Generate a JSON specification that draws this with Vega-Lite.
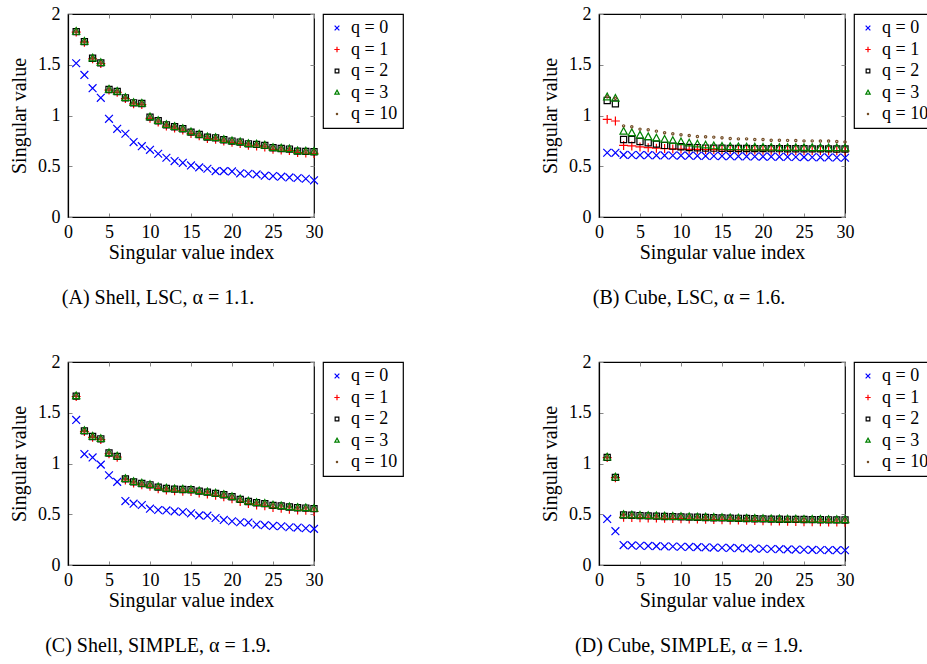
{
  "$schema": "https://vega.github.io/schema/vega-lite/v6.json",
  "padding": {"left": 8, "top": 4, "right": 0, "bottom": 0},
  "datasets": {
    "sv": [
      {"p":"A","i":1,"q = 0":1.515,"q = 1":1.822,"q = 2":1.826,"q = 3":1.828,"q = 10":1.826},
      {"p":"A","i":2,"q = 0":1.400,"q = 1":1.722,"q = 2":1.728,"q = 3":1.730,"q = 10":1.728},
      {"p":"A","i":3,"q = 0":1.269,"q = 1":1.558,"q = 2":1.564,"q = 3":1.566,"q = 10":1.564},
      {"p":"A","i":4,"q = 0":1.174,"q = 1":1.512,"q = 2":1.518,"q = 3":1.520,"q = 10":1.518},
      {"p":"A","i":5,"q = 0":0.967,"q = 1":1.250,"q = 2":1.256,"q = 3":1.258,"q = 10":1.256},
      {"p":"A","i":6,"q = 0":0.869,"q = 1":1.228,"q = 2":1.236,"q = 3":1.238,"q = 10":1.236},
      {"p":"A","i":7,"q = 0":0.820,"q = 1":1.166,"q = 2":1.174,"q = 3":1.176,"q = 10":1.174},
      {"p":"A","i":8,"q = 0":0.738,"q = 1":1.115,"q = 2":1.125,"q = 3":1.127,"q = 10":1.125},
      {"p":"A","i":9,"q = 0":0.698,"q = 1":1.108,"q = 2":1.118,"q = 3":1.120,"q = 10":1.118},
      {"p":"A","i":10,"q = 0":0.662,"q = 1":0.972,"q = 2":0.984,"q = 3":0.986,"q = 10":0.984},
      {"p":"A","i":11,"q = 0":0.623,"q = 1":0.936,"q = 2":0.948,"q = 3":0.950,"q = 10":0.948},
      {"p":"A","i":12,"q = 0":0.584,"q = 1":0.896,"q = 2":0.908,"q = 3":0.910,"q = 10":0.908},
      {"p":"A","i":13,"q = 0":0.551,"q = 1":0.876,"q = 2":0.889,"q = 3":0.891,"q = 10":0.889},
      {"p":"A","i":14,"q = 0":0.534,"q = 1":0.856,"q = 2":0.869,"q = 3":0.871,"q = 10":0.869},
      {"p":"A","i":15,"q = 0":0.508,"q = 1":0.822,"q = 2":0.836,"q = 3":0.838,"q = 10":0.836},
      {"p":"A","i":16,"q = 0":0.489,"q = 1":0.800,"q = 2":0.813,"q = 3":0.815,"q = 10":0.813},
      {"p":"A","i":17,"q = 0":0.475,"q = 1":0.773,"q = 2":0.787,"q = 3":0.789,"q = 10":0.787},
      {"p":"A","i":18,"q = 0":0.452,"q = 1":0.766,"q = 2":0.780,"q = 3":0.782,"q = 10":0.780},
      {"p":"A","i":19,"q = 0":0.452,"q = 1":0.748,"q = 2":0.761,"q = 3":0.763,"q = 10":0.761},
      {"p":"A","i":20,"q = 0":0.449,"q = 1":0.735,"q = 2":0.748,"q = 3":0.750,"q = 10":0.748},
      {"p":"A","i":21,"q = 0":0.430,"q = 1":0.724,"q = 2":0.738,"q = 3":0.740,"q = 10":0.738},
      {"p":"A","i":22,"q = 0":0.426,"q = 1":0.707,"q = 2":0.721,"q = 3":0.723,"q = 10":0.721},
      {"p":"A","i":23,"q = 0":0.420,"q = 1":0.700,"q = 2":0.715,"q = 3":0.717,"q = 10":0.715},
      {"p":"A","i":24,"q = 0":0.407,"q = 1":0.690,"q = 2":0.705,"q = 3":0.707,"q = 10":0.705},
      {"p":"A","i":25,"q = 0":0.403,"q = 1":0.667,"q = 2":0.682,"q = 3":0.684,"q = 10":0.682},
      {"p":"A","i":26,"q = 0":0.397,"q = 1":0.660,"q = 2":0.675,"q = 3":0.677,"q = 10":0.675},
      {"p":"A","i":27,"q = 0":0.390,"q = 1":0.654,"q = 2":0.669,"q = 3":0.671,"q = 10":0.669},
      {"p":"A","i":28,"q = 0":0.384,"q = 1":0.634,"q = 2":0.649,"q = 3":0.651,"q = 10":0.649},
      {"p":"A","i":29,"q = 0":0.377,"q = 1":0.630,"q = 2":0.646,"q = 3":0.648,"q = 10":0.646},
      {"p":"A","i":30,"q = 0":0.361,"q = 1":0.626,"q = 2":0.643,"q = 3":0.645,"q = 10":0.643},

      {"p":"B","i":1,"q = 0":0.633,"q = 1":0.962,"q = 2":1.148,"q = 3":1.182,"q = 10":1.185},
      {"p":"B","i":2,"q = 0":0.632,"q = 1":0.946,"q = 2":1.115,"q = 3":1.168,"q = 10":1.170},
      {"p":"B","i":3,"q = 0":0.612,"q = 1":0.705,"q = 2":0.764,"q = 3":0.844,"q = 10":0.898},
      {"p":"B","i":4,"q = 0":0.611,"q = 1":0.700,"q = 2":0.764,"q = 3":0.830,"q = 10":0.889},
      {"p":"B","i":5,"q = 0":0.610,"q = 1":0.690,"q = 2":0.744,"q = 3":0.805,"q = 10":0.866},
      {"p":"B","i":6,"q = 0":0.609,"q = 1":0.683,"q = 2":0.731,"q = 3":0.790,"q = 10":0.859},
      {"p":"B","i":7,"q = 0":0.608,"q = 1":0.678,"q = 2":0.718,"q = 3":0.777,"q = 10":0.846},
      {"p":"B","i":8,"q = 0":0.607,"q = 1":0.674,"q = 2":0.705,"q = 3":0.764,"q = 10":0.830},
      {"p":"B","i":9,"q = 0":0.606,"q = 1":0.671,"q = 2":0.698,"q = 3":0.752,"q = 10":0.820},
      {"p":"B","i":10,"q = 0":0.605,"q = 1":0.669,"q = 2":0.692,"q = 3":0.740,"q = 10":0.810},
      {"p":"B","i":11,"q = 0":0.604,"q = 1":0.667,"q = 2":0.685,"q = 3":0.728,"q = 10":0.803},
      {"p":"B","i":12,"q = 0":0.603,"q = 1":0.666,"q = 2":0.682,"q = 3":0.718,"q = 10":0.793},
      {"p":"B","i":13,"q = 0":0.602,"q = 1":0.665,"q = 2":0.679,"q = 3":0.708,"q = 10":0.790},
      {"p":"B","i":14,"q = 0":0.601,"q = 1":0.664,"q = 2":0.678,"q = 3":0.700,"q = 10":0.787},
      {"p":"B","i":15,"q = 0":0.600,"q = 1":0.663,"q = 2":0.677,"q = 3":0.695,"q = 10":0.780},
      {"p":"B","i":16,"q = 0":0.599,"q = 1":0.662,"q = 2":0.676,"q = 3":0.692,"q = 10":0.774},
      {"p":"B","i":17,"q = 0":0.598,"q = 1":0.661,"q = 2":0.675,"q = 3":0.690,"q = 10":0.770},
      {"p":"B","i":18,"q = 0":0.597,"q = 1":0.660,"q = 2":0.675,"q = 3":0.688,"q = 10":0.770},
      {"p":"B","i":19,"q = 0":0.596,"q = 1":0.659,"q = 2":0.674,"q = 3":0.687,"q = 10":0.764},
      {"p":"B","i":20,"q = 0":0.595,"q = 1":0.658,"q = 2":0.674,"q = 3":0.686,"q = 10":0.764},
      {"p":"B","i":21,"q = 0":0.594,"q = 1":0.658,"q = 2":0.673,"q = 3":0.685,"q = 10":0.757},
      {"p":"B","i":22,"q = 0":0.593,"q = 1":0.657,"q = 2":0.673,"q = 3":0.684,"q = 10":0.757},
      {"p":"B","i":23,"q = 0":0.592,"q = 1":0.656,"q = 2":0.672,"q = 3":0.684,"q = 10":0.755},
      {"p":"B","i":24,"q = 0":0.591,"q = 1":0.656,"q = 2":0.672,"q = 3":0.683,"q = 10":0.754},
      {"p":"B","i":25,"q = 0":0.590,"q = 1":0.655,"q = 2":0.672,"q = 3":0.683,"q = 10":0.750},
      {"p":"B","i":26,"q = 0":0.589,"q = 1":0.654,"q = 2":0.671,"q = 3":0.682,"q = 10":0.750},
      {"p":"B","i":27,"q = 0":0.588,"q = 1":0.654,"q = 2":0.671,"q = 3":0.682,"q = 10":0.748},
      {"p":"B","i":28,"q = 0":0.587,"q = 1":0.653,"q = 2":0.671,"q = 3":0.681,"q = 10":0.748},
      {"p":"B","i":29,"q = 0":0.586,"q = 1":0.653,"q = 2":0.670,"q = 3":0.681,"q = 10":0.744},
      {"p":"B","i":30,"q = 0":0.584,"q = 1":0.652,"q = 2":0.670,"q = 3":0.680,"q = 10":0.740},

      {"p":"C","i":1,"q = 0":1.429,"q = 1":1.660,"q = 2":1.664,"q = 3":1.666,"q = 10":1.664},
      {"p":"C","i":2,"q = 0":1.093,"q = 1":1.315,"q = 2":1.321,"q = 3":1.323,"q = 10":1.321},
      {"p":"C","i":3,"q = 0":1.060,"q = 1":1.258,"q = 2":1.266,"q = 3":1.268,"q = 10":1.266},
      {"p":"C","i":4,"q = 0":0.989,"q = 1":1.236,"q = 2":1.243,"q = 3":1.245,"q = 10":1.243},
      {"p":"C","i":5,"q = 0":0.884,"q = 1":1.096,"q = 2":1.103,"q = 3":1.105,"q = 10":1.103},
      {"p":"C","i":6,"q = 0":0.819,"q = 1":1.062,"q = 2":1.070,"q = 3":1.072,"q = 10":1.070},
      {"p":"C","i":7,"q = 0":0.630,"q = 1":0.838,"q = 2":0.848,"q = 3":0.850,"q = 10":0.848},
      {"p":"C","i":8,"q = 0":0.604,"q = 1":0.808,"q = 2":0.819,"q = 3":0.821,"q = 10":0.819},
      {"p":"C","i":9,"q = 0":0.591,"q = 1":0.790,"q = 2":0.803,"q = 3":0.805,"q = 10":0.803},
      {"p":"C","i":10,"q = 0":0.555,"q = 1":0.776,"q = 2":0.790,"q = 3":0.792,"q = 10":0.790},
      {"p":"C","i":11,"q = 0":0.542,"q = 1":0.752,"q = 2":0.767,"q = 3":0.769,"q = 10":0.767},
      {"p":"C","i":12,"q = 0":0.538,"q = 1":0.738,"q = 2":0.754,"q = 3":0.756,"q = 10":0.754},
      {"p":"C","i":13,"q = 0":0.529,"q = 1":0.731,"q = 2":0.747,"q = 3":0.749,"q = 10":0.747},
      {"p":"C","i":14,"q = 0":0.522,"q = 1":0.727,"q = 2":0.744,"q = 3":0.746,"q = 10":0.744},
      {"p":"C","i":15,"q = 0":0.509,"q = 1":0.723,"q = 2":0.741,"q = 3":0.743,"q = 10":0.741},
      {"p":"C","i":16,"q = 0":0.489,"q = 1":0.710,"q = 2":0.728,"q = 3":0.730,"q = 10":0.728},
      {"p":"C","i":17,"q = 0":0.486,"q = 1":0.699,"q = 2":0.718,"q = 3":0.720,"q = 10":0.718},
      {"p":"C","i":18,"q = 0":0.463,"q = 1":0.686,"q = 2":0.705,"q = 3":0.707,"q = 10":0.705},
      {"p":"C","i":19,"q = 0":0.444,"q = 1":0.672,"q = 2":0.692,"q = 3":0.694,"q = 10":0.692},
      {"p":"C","i":20,"q = 0":0.431,"q = 1":0.652,"q = 2":0.672,"q = 3":0.674,"q = 10":0.672},
      {"p":"C","i":21,"q = 0":0.421,"q = 1":0.626,"q = 2":0.646,"q = 3":0.648,"q = 10":0.646},
      {"p":"C","i":22,"q = 0":0.418,"q = 1":0.605,"q = 2":0.626,"q = 3":0.628,"q = 10":0.626},
      {"p":"C","i":23,"q = 0":0.398,"q = 1":0.592,"q = 2":0.613,"q = 3":0.615,"q = 10":0.613},
      {"p":"C","i":24,"q = 0":0.392,"q = 1":0.583,"q = 2":0.604,"q = 3":0.606,"q = 10":0.604},
      {"p":"C","i":25,"q = 0":0.385,"q = 1":0.566,"q = 2":0.587,"q = 3":0.589,"q = 10":0.587},
      {"p":"C","i":26,"q = 0":0.382,"q = 1":0.559,"q = 2":0.581,"q = 3":0.583,"q = 10":0.581},
      {"p":"C","i":27,"q = 0":0.372,"q = 1":0.549,"q = 2":0.571,"q = 3":0.573,"q = 10":0.571},
      {"p":"C","i":28,"q = 0":0.369,"q = 1":0.542,"q = 2":0.564,"q = 3":0.566,"q = 10":0.564},
      {"p":"C","i":29,"q = 0":0.362,"q = 1":0.538,"q = 2":0.561,"q = 3":0.563,"q = 10":0.561},
      {"p":"C","i":30,"q = 0":0.356,"q = 1":0.528,"q = 2":0.555,"q = 3":0.557,"q = 10":0.555},

      {"p":"D","i":1,"q = 0":0.454,"q = 1":1.058,"q = 2":1.060,"q = 3":1.062,"q = 10":1.060},
      {"p":"D","i":2,"q = 0":0.333,"q = 1":0.860,"q = 2":0.863,"q = 3":0.865,"q = 10":0.863},
      {"p":"D","i":3,"q = 0":0.196,"q = 1":0.470,"q = 2":0.493,"q = 3":0.495,"q = 10":0.493},
      {"p":"D","i":4,"q = 0":0.193,"q = 1":0.468,"q = 2":0.490,"q = 3":0.492,"q = 10":0.490},
      {"p":"D","i":5,"q = 0":0.190,"q = 1":0.466,"q = 2":0.487,"q = 3":0.489,"q = 10":0.487},
      {"p":"D","i":6,"q = 0":0.188,"q = 1":0.464,"q = 2":0.484,"q = 3":0.486,"q = 10":0.484},
      {"p":"D","i":7,"q = 0":0.186,"q = 1":0.462,"q = 2":0.481,"q = 3":0.483,"q = 10":0.481},
      {"p":"D","i":8,"q = 0":0.184,"q = 1":0.460,"q = 2":0.478,"q = 3":0.480,"q = 10":0.478},
      {"p":"D","i":9,"q = 0":0.182,"q = 1":0.458,"q = 2":0.476,"q = 3":0.478,"q = 10":0.476},
      {"p":"D","i":10,"q = 0":0.180,"q = 1":0.456,"q = 2":0.474,"q = 3":0.476,"q = 10":0.474},
      {"p":"D","i":11,"q = 0":0.178,"q = 1":0.454,"q = 2":0.472,"q = 3":0.474,"q = 10":0.472},
      {"p":"D","i":12,"q = 0":0.176,"q = 1":0.452,"q = 2":0.470,"q = 3":0.472,"q = 10":0.470},
      {"p":"D","i":13,"q = 0":0.174,"q = 1":0.450,"q = 2":0.468,"q = 3":0.470,"q = 10":0.468},
      {"p":"D","i":14,"q = 0":0.172,"q = 1":0.448,"q = 2":0.466,"q = 3":0.468,"q = 10":0.466},
      {"p":"D","i":15,"q = 0":0.170,"q = 1":0.446,"q = 2":0.464,"q = 3":0.466,"q = 10":0.464},
      {"p":"D","i":16,"q = 0":0.168,"q = 1":0.444,"q = 2":0.462,"q = 3":0.464,"q = 10":0.462},
      {"p":"D","i":17,"q = 0":0.166,"q = 1":0.442,"q = 2":0.460,"q = 3":0.462,"q = 10":0.460},
      {"p":"D","i":18,"q = 0":0.164,"q = 1":0.440,"q = 2":0.458,"q = 3":0.460,"q = 10":0.458},
      {"p":"D","i":19,"q = 0":0.162,"q = 1":0.438,"q = 2":0.456,"q = 3":0.458,"q = 10":0.456},
      {"p":"D","i":20,"q = 0":0.160,"q = 1":0.436,"q = 2":0.454,"q = 3":0.456,"q = 10":0.454},
      {"p":"D","i":21,"q = 0":0.158,"q = 1":0.434,"q = 2":0.452,"q = 3":0.454,"q = 10":0.452},
      {"p":"D","i":22,"q = 0":0.156,"q = 1":0.432,"q = 2":0.451,"q = 3":0.453,"q = 10":0.451},
      {"p":"D","i":23,"q = 0":0.154,"q = 1":0.430,"q = 2":0.450,"q = 3":0.452,"q = 10":0.450},
      {"p":"D","i":24,"q = 0":0.152,"q = 1":0.428,"q = 2":0.449,"q = 3":0.451,"q = 10":0.449},
      {"p":"D","i":25,"q = 0":0.150,"q = 1":0.427,"q = 2":0.448,"q = 3":0.450,"q = 10":0.448},
      {"p":"D","i":26,"q = 0":0.149,"q = 1":0.426,"q = 2":0.447,"q = 3":0.449,"q = 10":0.447},
      {"p":"D","i":27,"q = 0":0.148,"q = 1":0.425,"q = 2":0.446,"q = 3":0.448,"q = 10":0.446},
      {"p":"D","i":28,"q = 0":0.147,"q = 1":0.424,"q = 2":0.445,"q = 3":0.447,"q = 10":0.445},
      {"p":"D","i":29,"q = 0":0.146,"q = 1":0.423,"q = 2":0.444,"q = 3":0.446,"q = 10":0.444},
      {"p":"D","i":30,"q = 0":0.145,"q = 1":0.421,"q = 2":0.443,"q = 3":0.445,"q = 10":0.443}
    ]
  },
  "config": {
    "font": "Liberation Serif",
    "style": {"guide-label": {"font": "Liberation Serif"}, "guide-title": {"font": "Liberation Serif"}},
    "view": {"stroke": "black", "strokeWidth": 1.2},
    "axis": {
      "grid": false,
      "labelFont": "Liberation Serif", "labelFontSize": 18, "labelColor": "black", "labelFlush": false,
      "titleFont": "Liberation Serif", "titleFontSize": 20, "titleFontWeight": "normal", "titleColor": "black",
      "domainColor": "black", "domainWidth": 1.2,
      "tickColor": "#888888", "tickWidth": 1, "tickSize": -4
    },
    "axisX": {"labelPadding": 10, "titlePadding": 1},
    "axisY": {"labelPadding": 12, "titlePadding": 8},
    "legend": {
      "strokeColor": "black", "strokeWidth": 1.2, "padding": 5,
      "labelFont": "Liberation Serif", "labelFontSize": 18, "labelColor": "black",
      "symbolSize": 45, "symbolStrokeWidth": 1.2, "rowPadding": 3.5, "offset": 8, "labelOffset": 5
    },
    "title": {"font": "Liberation Serif", "fontSize": 20, "fontWeight": "normal", "color": "black"}
  },
  "spacing": 43,
  "vconcat": [
    {
      "spacing": 134,
      "hconcat": [
        {
          "width": 246, "height": 203,
          "title": {"text": "(A) Shell, LSC, α = 1.1.", "orient": "bottom", "anchor": "middle", "dx": -33, "offset": 26},
          "data": {"name": "sv"},
          "transform": [{"filter": "datum.p == 'A'"}, {"fold": ["q = 0", "q = 1", "q = 2", "q = 3", "q = 10"], "as": ["q", "v"]}],
          "layer": [
            {
              "mark": {"type": "point", "filled": false, "strokeWidth": 1.2, "opacity": 1, "size": 125},
              "encoding": {
                "x": {"field": "i", "type": "quantitative", "scale": {"domain": [0, 30], "nice": false}, "axis": {"values": [0, 5, 10, 15, 20, 25, 30], "title": "Singular value index"}},
                "y": {"field": "v", "type": "quantitative", "scale": {"domain": [0, 2], "nice": false}, "axis": {"values": [0, 0.5, 1, 1.5, 2], "format": "~g", "title": "Singular value"}},
                "color": {"field": "q", "type": "nominal", "title": null, "scale": {"domain": ["q = 0", "q = 1", "q = 2", "q = 3", "q = 10"], "range": ["#0000ff", "#ff0000", "#000000", "#008000", "#734d26"]}},
                "shape": {"field": "q", "type": "nominal", "title": null, "scale": {"domain": ["q = 0", "q = 1", "q = 2", "q = 3", "q = 10"], "range": ["M-0.7,-0.7L0.7,0.7M0.7,-0.7L-0.7,0.7", "M-0.8,0L0.8,0M0,-0.8L0,0.8", "M-0.55,-0.55L0.55,-0.55L0.55,0.55L-0.55,0.55Z", "M0,-0.7L0.65,0.5L-0.65,0.5Z", "M-0.2,0A0.2,0.2,0,1,0,0.2,0A0.2,0.2,0,1,0,-0.2,0Z"]}}
              }
            },
            {
              "mark": {"type": "point", "opacity": 0},
              "encoding": {
                "x": {"field": "i", "type": "quantitative", "axis": {"orient": "top", "values": [0, 5, 10, 15, 20, 25, 30], "labels": false, "domain": false, "title": null}},
                "y": {"field": "v", "type": "quantitative", "axis": {"orient": "right", "values": [0, 0.5, 1, 1.5, 2], "labels": false, "domain": false, "title": null}}
              }
            }
          ],
          "resolve": {"axis": {"x": "independent", "y": "independent"}}
        },
        {
          "width": 246, "height": 203,
          "title": {"text": "(B) Cube, LSC, α = 1.6.", "orient": "bottom", "anchor": "middle", "dx": -33, "offset": 26},
          "data": {"name": "sv"},
          "transform": [{"filter": "datum.p == 'B'"}, {"fold": ["q = 0", "q = 1", "q = 2", "q = 3", "q = 10"], "as": ["q", "v"]}],
          "layer": [
            {
              "mark": {"type": "point", "filled": false, "strokeWidth": 1.2, "opacity": 1, "size": 125},
              "encoding": {
                "x": {"field": "i", "type": "quantitative", "scale": {"domain": [0, 30], "nice": false}, "axis": {"values": [0, 5, 10, 15, 20, 25, 30], "title": "Singular value index"}},
                "y": {"field": "v", "type": "quantitative", "scale": {"domain": [0, 2], "nice": false}, "axis": {"values": [0, 0.5, 1, 1.5, 2], "format": "~g", "title": "Singular value"}},
                "color": {"field": "q", "type": "nominal", "title": null, "scale": {"domain": ["q = 0", "q = 1", "q = 2", "q = 3", "q = 10"], "range": ["#0000ff", "#ff0000", "#000000", "#008000", "#734d26"]}},
                "shape": {"field": "q", "type": "nominal", "title": null, "scale": {"domain": ["q = 0", "q = 1", "q = 2", "q = 3", "q = 10"], "range": ["M-0.7,-0.7L0.7,0.7M0.7,-0.7L-0.7,0.7", "M-0.8,0L0.8,0M0,-0.8L0,0.8", "M-0.55,-0.55L0.55,-0.55L0.55,0.55L-0.55,0.55Z", "M0,-0.7L0.65,0.5L-0.65,0.5Z", "M-0.2,0A0.2,0.2,0,1,0,0.2,0A0.2,0.2,0,1,0,-0.2,0Z"]}}
              }
            },
            {
              "mark": {"type": "point", "opacity": 0},
              "encoding": {
                "x": {"field": "i", "type": "quantitative", "axis": {"orient": "top", "values": [0, 5, 10, 15, 20, 25, 30], "labels": false, "domain": false, "title": null}},
                "y": {"field": "v", "type": "quantitative", "axis": {"orient": "right", "values": [0, 0.5, 1, 1.5, 2], "labels": false, "domain": false, "title": null}}
              }
            }
          ],
          "resolve": {"axis": {"x": "independent", "y": "independent"}}
        }
      ],
      "resolve": {"scale": {"color": "independent", "shape": "independent"}, "legend": {"color": "independent", "shape": "independent"}}
    },
    {
      "spacing": 134,
      "hconcat": [
        {
          "width": 246, "height": 203,
          "title": {"text": "(C) Shell, SIMPLE, α = 1.9.", "orient": "bottom", "anchor": "middle", "dx": -33, "offset": 26},
          "data": {"name": "sv"},
          "transform": [{"filter": "datum.p == 'C'"}, {"fold": ["q = 0", "q = 1", "q = 2", "q = 3", "q = 10"], "as": ["q", "v"]}],
          "layer": [
            {
              "mark": {"type": "point", "filled": false, "strokeWidth": 1.2, "opacity": 1, "size": 125},
              "encoding": {
                "x": {"field": "i", "type": "quantitative", "scale": {"domain": [0, 30], "nice": false}, "axis": {"values": [0, 5, 10, 15, 20, 25, 30], "title": "Singular value index"}},
                "y": {"field": "v", "type": "quantitative", "scale": {"domain": [0, 2], "nice": false}, "axis": {"values": [0, 0.5, 1, 1.5, 2], "format": "~g", "title": "Singular value"}},
                "color": {"field": "q", "type": "nominal", "title": null, "scale": {"domain": ["q = 0", "q = 1", "q = 2", "q = 3", "q = 10"], "range": ["#0000ff", "#ff0000", "#000000", "#008000", "#734d26"]}},
                "shape": {"field": "q", "type": "nominal", "title": null, "scale": {"domain": ["q = 0", "q = 1", "q = 2", "q = 3", "q = 10"], "range": ["M-0.7,-0.7L0.7,0.7M0.7,-0.7L-0.7,0.7", "M-0.8,0L0.8,0M0,-0.8L0,0.8", "M-0.55,-0.55L0.55,-0.55L0.55,0.55L-0.55,0.55Z", "M0,-0.7L0.65,0.5L-0.65,0.5Z", "M-0.2,0A0.2,0.2,0,1,0,0.2,0A0.2,0.2,0,1,0,-0.2,0Z"]}}
              }
            },
            {
              "mark": {"type": "point", "opacity": 0},
              "encoding": {
                "x": {"field": "i", "type": "quantitative", "axis": {"orient": "top", "values": [0, 5, 10, 15, 20, 25, 30], "labels": false, "domain": false, "title": null}},
                "y": {"field": "v", "type": "quantitative", "axis": {"orient": "right", "values": [0, 0.5, 1, 1.5, 2], "labels": false, "domain": false, "title": null}}
              }
            }
          ],
          "resolve": {"axis": {"x": "independent", "y": "independent"}}
        },
        {
          "width": 246, "height": 203,
          "title": {"text": "(D) Cube, SIMPLE, α = 1.9.", "orient": "bottom", "anchor": "middle", "dx": -33, "offset": 26},
          "data": {"name": "sv"},
          "transform": [{"filter": "datum.p == 'D'"}, {"fold": ["q = 0", "q = 1", "q = 2", "q = 3", "q = 10"], "as": ["q", "v"]}],
          "layer": [
            {
              "mark": {"type": "point", "filled": false, "strokeWidth": 1.2, "opacity": 1, "size": 125},
              "encoding": {
                "x": {"field": "i", "type": "quantitative", "scale": {"domain": [0, 30], "nice": false}, "axis": {"values": [0, 5, 10, 15, 20, 25, 30], "title": "Singular value index"}},
                "y": {"field": "v", "type": "quantitative", "scale": {"domain": [0, 2], "nice": false}, "axis": {"values": [0, 0.5, 1, 1.5, 2], "format": "~g", "title": "Singular value"}},
                "color": {"field": "q", "type": "nominal", "title": null, "scale": {"domain": ["q = 0", "q = 1", "q = 2", "q = 3", "q = 10"], "range": ["#0000ff", "#ff0000", "#000000", "#008000", "#734d26"]}},
                "shape": {"field": "q", "type": "nominal", "title": null, "scale": {"domain": ["q = 0", "q = 1", "q = 2", "q = 3", "q = 10"], "range": ["M-0.7,-0.7L0.7,0.7M0.7,-0.7L-0.7,0.7", "M-0.8,0L0.8,0M0,-0.8L0,0.8", "M-0.55,-0.55L0.55,-0.55L0.55,0.55L-0.55,0.55Z", "M0,-0.7L0.65,0.5L-0.65,0.5Z", "M-0.2,0A0.2,0.2,0,1,0,0.2,0A0.2,0.2,0,1,0,-0.2,0Z"]}}
              }
            },
            {
              "mark": {"type": "point", "opacity": 0},
              "encoding": {
                "x": {"field": "i", "type": "quantitative", "axis": {"orient": "top", "values": [0, 5, 10, 15, 20, 25, 30], "labels": false, "domain": false, "title": null}},
                "y": {"field": "v", "type": "quantitative", "axis": {"orient": "right", "values": [0, 0.5, 1, 1.5, 2], "labels": false, "domain": false, "title": null}}
              }
            }
          ],
          "resolve": {"axis": {"x": "independent", "y": "independent"}}
        }
      ],
      "resolve": {"scale": {"color": "independent", "shape": "independent"}, "legend": {"color": "independent", "shape": "independent"}}
    }
  ],
  "resolve": {"scale": {"color": "independent", "shape": "independent"}, "legend": {"color": "independent", "shape": "independent"}}
}
